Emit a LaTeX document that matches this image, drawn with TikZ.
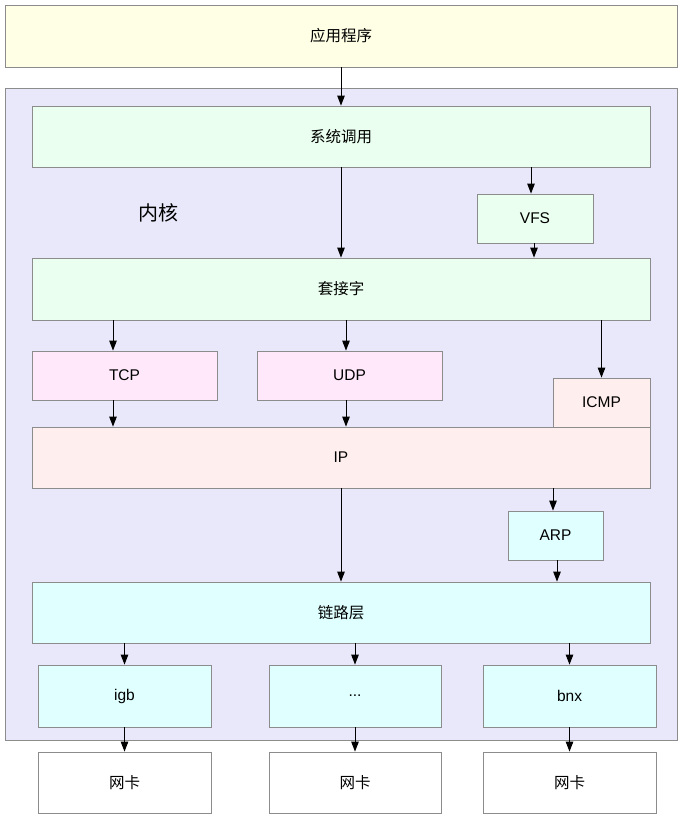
\documentclass[tikz,border=0pt]{standalone}
\usepackage{fontspec}
\setmainfont{Liberation Sans}
\newfontfamily\cjk{Noto Sans CJK SC}
\usetikzlibrary{arrows.meta}

\definecolor{appfill}{HTML}{FFFFE6}
\definecolor{kernfill}{HTML}{E8E8FA}
\definecolor{sysfill}{HTML}{EAFFEF}
\definecolor{protofill}{HTML}{FFE8FA}
\definecolor{ipfill}{HTML}{FFEEEE}
\definecolor{linkfill}{HTML}{E0FFFF}
\definecolor{boxline}{HTML}{8C8C8C}

\begin{document}
\begin{tikzpicture}[x=1pt,y=-1pt,
  box/.style={draw=boxline,line width=0.8pt,inner sep=0pt,font=\fontsize{15.5}{18}\selectfont},
  arr/.style={-{Triangle[length=10pt,width=7.5pt]},line width=1pt}]
\useasboundingbox (0,0) rectangle (682,818);
\node[box,fill=appfill,minimum width=672pt,minimum height=62pt] (app) at (341,36) {\cjk 应用程序};
\node[box,fill=kernfill,minimum width=672pt,minimum height=652pt] (kern) at (341,414) {};
\node[font=\fontsize{20}{24}\selectfont] (kernlabel) at (158,213) {\cjk 内核};
\node[box,fill=sysfill,minimum width=618pt,minimum height=61pt] (sys) at (341,136.5) {\cjk 系统调用};
\node[box,fill=sysfill,minimum width=116pt,minimum height=49pt] (vfs) at (535,218.5) {VFS};
\node[box,fill=sysfill,minimum width=618pt,minimum height=62pt] (sock) at (341,289) {\cjk 套接字};
\node[box,fill=protofill,minimum width=185pt,minimum height=49pt] (tcp) at (124.5,375.5) {TCP};
\node[box,fill=protofill,minimum width=185pt,minimum height=49pt] (udp) at (349.5,375.5) {UDP};
\node[box,fill=ipfill,minimum width=97pt,minimum height=49pt] (icmp) at (601.5,402.5) {ICMP};
\node[box,fill=ipfill,minimum width=618pt,minimum height=61pt] (ip) at (341,457.5) {IP};
\node[box,fill=linkfill,minimum width=95pt,minimum height=49pt] (arp) at (555.5,535.5) {ARP};
\node[box,fill=linkfill,minimum width=618pt,minimum height=61pt] (link) at (341,612.5) {\cjk 链路层};
\node[box,fill=linkfill,minimum width=173pt,minimum height=62pt] (igb) at (124.5,696) {igb};
\node[box,fill=linkfill,minimum width=172pt,minimum height=62pt] (dots) at (355,696) {...};
\node[box,fill=linkfill,minimum width=173pt,minimum height=62pt] (bnx) at (569.5,696) {bnx};
\node[box,fill=white,minimum width=173pt,minimum height=61pt] (nic1) at (124.5,782.5) {\cjk 网卡};
\node[box,fill=white,minimum width=172pt,minimum height=61pt] (nic2) at (355,782.5) {\cjk 网卡};
\node[box,fill=white,minimum width=173pt,minimum height=61pt] (nic3) at (569.5,782.5) {\cjk 网卡};
% arrows
\draw[arr] (app.south) -- (sys.north);
\draw[arr] (sys.south) -- (sock.north);
\draw[arr] ([xshift=-4pt]sys.south -| vfs.north) -- ([xshift=-4pt]vfs.north);
\draw[arr] ([xshift=-1pt]vfs.south) -- ([xshift=-1pt]sock.north -| vfs.south);
\draw[arr] ([xshift=-11.5pt]sock.south -| tcp.north) -- ([xshift=-11.5pt]tcp.north);
\draw[arr] ([xshift=-3.5pt]sock.south -| udp.north) -- ([xshift=-3.5pt]udp.north);
\draw[arr] (sock.south -| icmp.north) -- (icmp.north);
\draw[arr] ([xshift=-11.5pt]tcp.south) -- ([xshift=-11.5pt]ip.north -| tcp.south);
\draw[arr] ([xshift=-3.5pt]udp.south) -- ([xshift=-3.5pt]ip.north -| udp.south);
\draw[arr] (ip.south) -- (link.north);
\draw[arr] ([xshift=-2.5pt]ip.south -| arp.north) -- ([xshift=-2.5pt]arp.north);
\draw[arr] ([xshift=1.5pt]arp.south) -- ([xshift=1.5pt]link.north -| arp.south);
\draw[arr] (link.south -| igb.north) -- (igb.north);
\draw[arr] (link.south -| dots.north) -- (dots.north);
\draw[arr] (link.south -| bnx.north) -- (bnx.north);
\draw[arr] (igb.south) -- (nic1.north);
\draw[arr] (dots.south) -- (nic2.north);
\draw[arr] (bnx.south) -- (nic3.north);
\end{tikzpicture}
\end{document}
